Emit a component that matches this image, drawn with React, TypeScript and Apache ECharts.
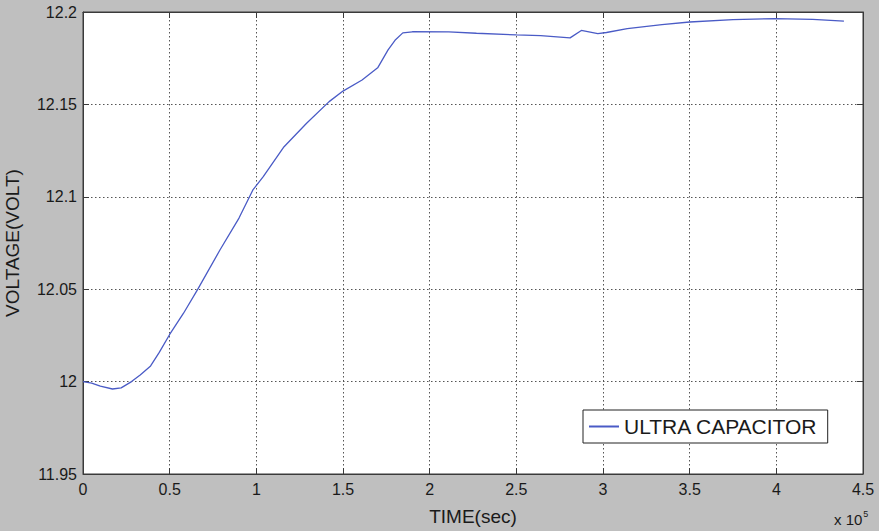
import React, { useEffect, useRef } from "react";
import * as echarts from "echarts";

// time in units of 1e5 s
const timeX: number[] = [
  0, 0.05, 0.1, 0.17, 0.22, 0.28, 0.33, 0.39, 0.44, 0.5, 0.58, 0.66, 0.79, 0.9,
  0.98, 1.04, 1.16, 1.29, 1.42, 1.5, 1.61, 1.7, 1.76, 1.8, 1.845, 1.9, 2.11,
  2.27, 2.5, 2.64, 2.81, 2.875, 2.97, 3.02, 3.14, 3.34, 3.5, 3.75, 3.99, 4.21,
  4.39,
];
const voltage: number[] = [
  12.0, 11.9992, 11.9975, 11.996, 11.9966, 12.0, 12.0036, 12.0085, 12.0158,
  12.0255, 12.037, 12.0496, 12.0712, 12.0885, 12.1037, 12.1109, 12.1271,
  12.1398, 12.1515, 12.1572, 12.1632, 12.1698, 12.1795, 12.1847, 12.1887,
  12.1893, 12.1892, 12.1885, 12.1876, 12.1872, 12.186, 12.19, 12.1883, 12.1889,
  12.191, 12.1932, 12.1946, 12.1959, 12.1964, 12.196, 12.1951,
];
const seriesName = "ULTRA CAPACITOR";
const xTitle = "TIME(sec)";
const yTitle = "VOLTAGE(VOLT)";

const FONT = "'Liberation Sans', Arial, Helvetica, sans-serif";
const TXT = "#1a1a1a";
const LINE = "#4a5bc6";

export default function App() {
  const ref = useRef<HTMLDivElement>(null);
  useEffect(() => {
    if (!ref.current) return;
    const chart = echarts.init(ref.current, undefined, { renderer: "svg" });
    const data = timeX.map((t, i) => [t, voltage[i]]);
    const gridLine = { show: true, lineStyle: { color: "#555", type: [1.5, 2.5] as any, width: 1 } };
    const axLine = { show: true, onZero: false, lineStyle: { color: "#3a3a3a" } };
    const axTick = { show: true, inside: true, length: 6, lineStyle: { color: "#3a3a3a" } };
    chart.setOption({
      animation: false,
      backgroundColor: "#bfbfbf",
      textStyle: { fontFamily: FONT },
      grid: {
        left: 83,
        right: 16,
        top: 12,
        bottom: 57,
        containLabel: false,
        outerBoundsMode: "none",
        show: true,
        backgroundColor: "#ffffff",
        borderColor: "#3a3a3a",
        borderWidth: 1,
      },
      legend: {
        left: 583,
        top: 410,
        padding: [6, 10, 6, 6],
        itemWidth: 30,
        itemHeight: 2,
        itemGap: 5,
        borderColor: "#222",
        borderWidth: 1,
        backgroundColor: "#ffffff",
        borderRadius: 0,
        textStyle: { fontSize: 21, color: TXT, fontFamily: FONT },
        data: [{ name: seriesName, icon: "rect" }],
      },
      xAxis: [
        {
          type: "value",
          min: 0,
          max: 4.5,
          interval: 0.5,
          name: xTitle,
          nameLocation: "middle",
          nameGap: 33,
          nameTextStyle: { fontSize: 19, color: TXT, fontFamily: FONT },
          axisLine: axLine,
          axisTick: axTick,
          axisLabel: { fontSize: 16, color: TXT, margin: 7, fontFamily: FONT },
          splitLine: gridLine,
        },
        {
          type: "value",
          position: "top",
          min: 0,
          max: 4.5,
          interval: 0.5,
          axisLine: axLine,
          axisTick: axTick,
          axisLabel: { show: false },
          splitLine: { show: false },
        },
      ],
      yAxis: [
        {
          type: "value",
          min: 11.95,
          max: 12.2,
          interval: 0.05,
          name: yTitle,
          nameLocation: "middle",
          nameGap: 61,
          nameTextStyle: { fontSize: 19, color: TXT, fontFamily: FONT },
          axisLine: axLine,
          axisTick: axTick,
          axisLabel: {
            fontSize: 16,
            color: TXT,
            margin: 6,
            fontFamily: FONT,
            formatter: (v: number) => String(parseFloat(v.toFixed(2))),
          },
          splitLine: gridLine,
        },
        {
          type: "value",
          position: "right",
          min: 11.95,
          max: 12.2,
          interval: 0.05,
          axisLine: axLine,
          axisTick: axTick,
          axisLabel: { show: false },
          splitLine: { show: false },
        },
      ],
      graphic: [
        {
          type: "text",
          left: 834,
          top: 509,
          style: {
            text: "{a|x 10}{b|5}",
            rich: {
              a: { fontSize: 15, fill: TXT, fontFamily: FONT, verticalAlign: "bottom" },
              b: { fontSize: 9, fill: TXT, fontFamily: FONT, verticalAlign: "top", padding: [0, 0, 9, 1] },
            },
          },
        },
      ],
      series: [
        {
          name: seriesName,
          type: "line",
          data,
          symbol: "none",
          smooth: false,
          lineStyle: { color: LINE, width: 1.3 },
          itemStyle: { color: LINE },
        },
      ],
    });
    return () => chart.dispose();
  }, []);
  return (
    <div
      ref={ref}
      style={{ position: "fixed", left: 0, top: 0, width: 879, height: 531 }}
    />
  );
}
